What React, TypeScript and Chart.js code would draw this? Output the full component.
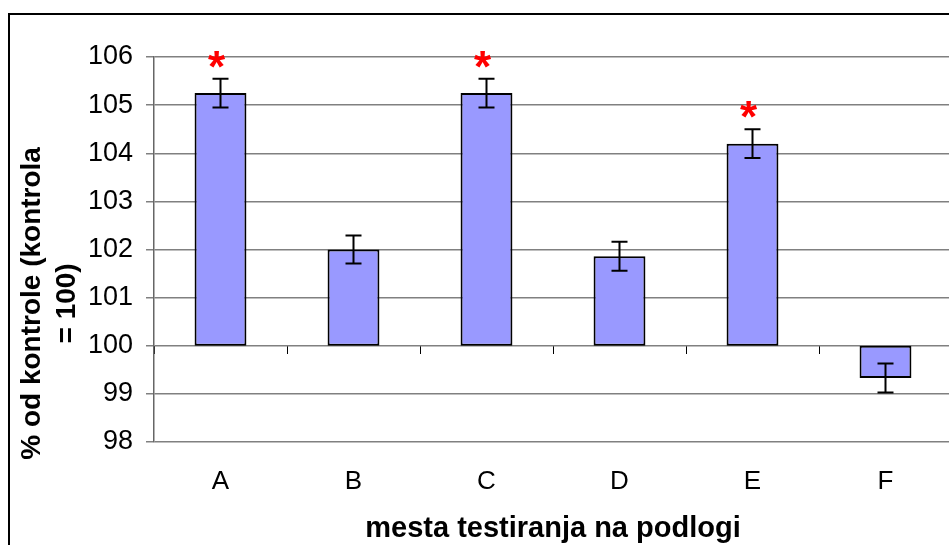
import React, { useEffect, useRef } from "react";
import { Chart, registerables } from "chart.js";

Chart.register(...registerables);

const categories = ["A", "B", "C", "D", "E", "F"];
const baseline = 100;
const values = [105.25, 102.0, 105.25, 101.86, 104.2, 99.33];
const errors = [0.3, 0.29, 0.3, 0.3, 0.3, 0.3];
const significant = [true, false, true, false, true, false];
const yMin = 98;
const yMax = 106;
const yTitle = ["% od kontrole (kontrola", "= 100)"];
const xTitle = "mesta testiranja na podlogi";

const FONT = "'Liberation Sans', Arial, sans-serif";

const errorBarPlugin = {
  id: "errorBars",
  afterDatasetsDraw(chart: any) {
    const xs = chart.scales.x;
    const ys = chart.scales.y;
    const ctx = chart.ctx;
    ctx.save();
    ctx.strokeStyle = "#000";
    ctx.lineWidth = 2;
    values.forEach((v, i) => {
      const x = xs.getPixelForValue(i);
      const yT = ys.getPixelForValue(v + errors[i]);
      const yB = ys.getPixelForValue(v - errors[i]);
      const cap = 8;
      ctx.beginPath();
      ctx.moveTo(x, yT);
      ctx.lineTo(x, yB);
      ctx.moveTo(x - cap, yT);
      ctx.lineTo(x + cap, yT);
      ctx.moveTo(x - cap, yB);
      ctx.lineTo(x + cap, yB);
      ctx.stroke();
      if (significant[i]) {
        ctx.fillStyle = "#ff0000";
        ctx.font = `bold 44px ${FONT}`;
        ctx.textAlign = "center";
        ctx.textBaseline = "alphabetic";
        ctx.fillText("*", x - 4, yT + 3);
      }
    });
    ctx.restore();
  },
};

const yTitlePlugin = {
  id: "yTitle",
  afterDraw(chart: any) {
    const ctx = chart.ctx;
    const ys = chart.scales.y;
    const cy = ys.getPixelForValue(yMin + (yMax - yMin) * 0.36);
    const xs = [32, 67];
    ctx.save();
    ctx.fillStyle = "#000";
    ctx.font = `bold 28px ${FONT}`;
    ctx.textAlign = "center";
    ctx.textBaseline = "middle";
    yTitle.forEach((line, i) => {
      ctx.save();
      ctx.translate(xs[i], cy);
      ctx.rotate(-Math.PI / 2);
      ctx.fillText(line, 0, 0);
      ctx.restore();
    });
    ctx.restore();
  },
};

export default function App() {
  const ref = useRef<HTMLCanvasElement>(null);
  useEffect(() => {
    document.body.style.overflow = "hidden";
    const canvas = ref.current!;
    const chart = new Chart(canvas, {
      type: "bar",
      data: {
        labels: categories,
        datasets: [
          {
            data: values.map((v) => [baseline, v]) as any,
            backgroundColor: "#9999ff",
            borderColor: "#000",
            borderWidth: 2,
            borderSkipped: false,
            barPercentage: 1,
            categoryPercentage: 0.39,
          },
        ],
      },
      options: {
        responsive: false,
        animation: false,
        layout: { padding: { left: 0, right: 8, top: 57, bottom: 0 } },
        plugins: { legend: { display: false }, tooltip: { enabled: false } },
        scales: {
          x: {
            type: "category",
            position: "bottom",
            grid: { display: false },
            border: { display: false },
            ticks: { color: "#000", font: { family: FONT, size: 26 }, padding: 16 },
            title: {
              display: true,
              text: xTitle,
              color: "#000",
              font: { family: FONT, size: 29, weight: "bold" },
              padding: { top: 0, bottom: 14 },
            },
            afterFit(scale: any) {
              scale.height = 118;
            },
          },
          x2: {
            type: "category",
            position: { y: 100 } as any,
            grid: {
              display: true,
              drawOnChartArea: false,
              tickLength: 8,
              color: "#000",
              lineWidth: 1,
              offset: true,
            },
            border: { display: false },
            ticks: { display: false },
          },
          y: {
            min: yMin,
            max: yMax,
            ticks: { stepSize: 1, color: "#000", font: { family: FONT, size: 27 }, padding: 13 },
            grid: { color: "#808080", lineWidth: 1.5, tickLength: 8 },
            border: { color: "#666", width: 1.5 },
            title: { display: false },
            afterFit(scale: any) {
              scale.width = 154;
            },
          },
        },
      },
      plugins: [errorBarPlugin, yTitlePlugin],
    });
    return () => chart.destroy();
  }, []);
  return (
    <div>
      <canvas
        ref={ref}
        width={960}
        height={560}
        style={{ position: "fixed", left: 0, top: 0, width: 960, height: 560 }}
      />
      <div
        style={{
          position: "fixed",
          left: 8,
          top: 13,
          width: 980,
          height: 600,
          border: "2px solid #000",
          pointerEvents: "none",
        }}
      />
    </div>
  );
}
